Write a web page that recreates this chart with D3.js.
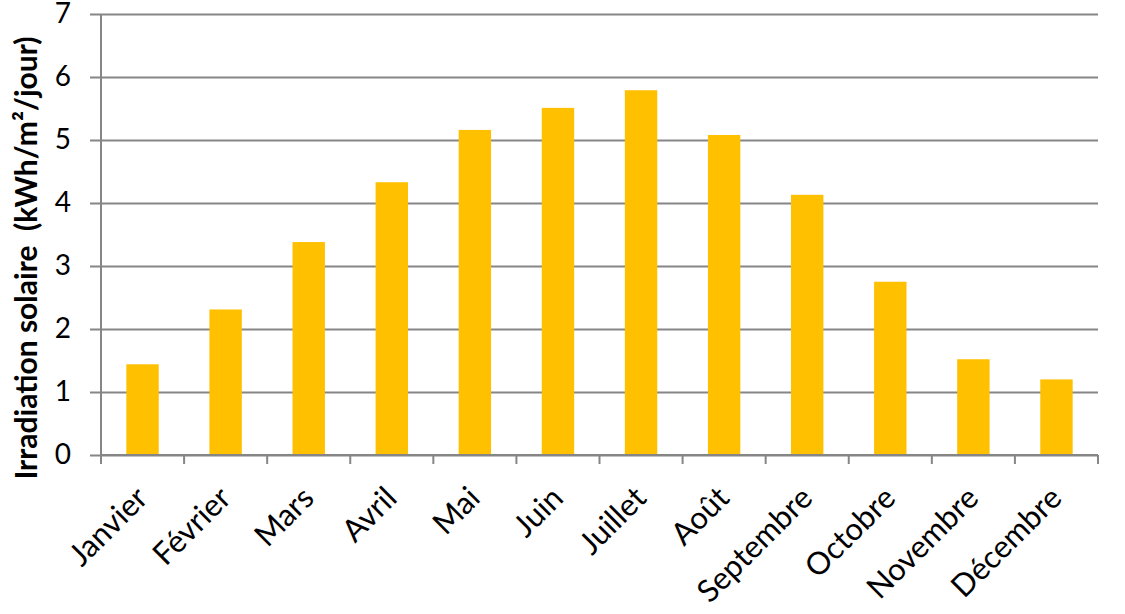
<!DOCTYPE html>
<html>
<head>
<meta charset="utf-8">
<script src="https://cdn.jsdelivr.net/npm/d3@7"></script>
<style>
  body { margin: 0; background: #fff; }
  .tick text { font-family: Lato, "Open Sans", sans-serif; fill: #000; }
</style>
</head>
<body>
<div class="chart"></div>
<script>
const months = ["Janvier", "Février", "Mars", "Avril", "Mai", "Juin", "Juillet", "Août", "Septembre", "Octobre", "Novembre", "Décembre"]
const irradiation = [1.44, 2.31, 3.38, 4.33, 5.16, 5.51, 5.79, 5.08, 4.13, 2.75, 1.52, 1.20]
const yTicks = [0, 1, 2, 3, 4, 5, 6, 7]

const margin = {top: 14, right: 27, bottom: 159, left: 101}
const width = 1125 - margin.left - margin.right
const height = 614 - margin.top - margin.bottom

const svg = d3.select(".chart").append("svg")
  .attr("width", 1125).attr("height", 614)
  .append("g").attr("transform", `translate(${margin.left},${margin.top})`)

const x = d3.scaleBand().domain(months).range([0, width]).paddingInner(0.61).paddingOuter(0.305)
const y = d3.scaleLinear().domain([0, 7]).range([height, 0])
const step = x.step()

// gridlines + y axis ticks
svg.append("g")
  .call(d3.axisLeft(y).tickValues(yTicks).tickFormat(d3.format("d")).tickSize(-width).tickSizeOuter(0).tickPadding(30))
  .call(g => g.select(".domain").remove())
  .call(g => g.selectAll(".tick line").attr("x1", -11).attr("stroke", "#868686").attr("stroke-width", 2))
  .call(g => g.selectAll(".tick text").style("font-size", "28px"))

// y axis line
svg.append("line").attr("x1", 0).attr("x2", 0).attr("y1", 0).attr("y2", height + 9)
  .attr("stroke", "#868686").attr("stroke-width", 2)

// bars
svg.selectAll(".bar").data(irradiation).enter().append("rect")
  .attr("x", (d, i) => x(months[i]))
  .attr("y", d => y(d))
  .attr("width", x.bandwidth())
  .attr("height", d => y(0) - y(d))
  .attr("fill", "#FFC000")

// x axis baseline and ticks at band boundaries
svg.append("line").attr("x1", 0).attr("x2", width).attr("y1", height).attr("y2", height)
  .attr("stroke", "#868686").attr("stroke-width", 2)
svg.selectAll(".xtick").data(d3.range(months.length + 1)).enter().append("line")
  .attr("x1", i => i * step).attr("x2", i => i * step)
  .attr("y1", height).attr("y2", height + 9)
  .attr("stroke", "#868686").attr("stroke-width", 2)

// month labels
svg.selectAll(".month").data(months).enter().append("text")
  .attr("transform", d => `translate(${x(d) + x.bandwidth() / 2 + 7},${height + 45}) rotate(-45)`)
  .attr("text-anchor", "end")
  .style("font-family", "Lato, 'Open Sans', sans-serif")
  .style("font-size", "31px")
  .text(d => d)

// y title
svg.append("text")
  .attr("transform", `translate(${-margin.left + 37},${258 - margin.top}) rotate(-90)`)
  .attr("text-anchor", "middle")
  .style("font-family", "Lato, 'Open Sans', sans-serif")
  .style("font-weight", "bold")
  .style("font-size", "30px")
  .style("white-space", "pre")
  .text("Irradiation solaire  (kWh/m²/jour)")
</script>
</body>
</html>
